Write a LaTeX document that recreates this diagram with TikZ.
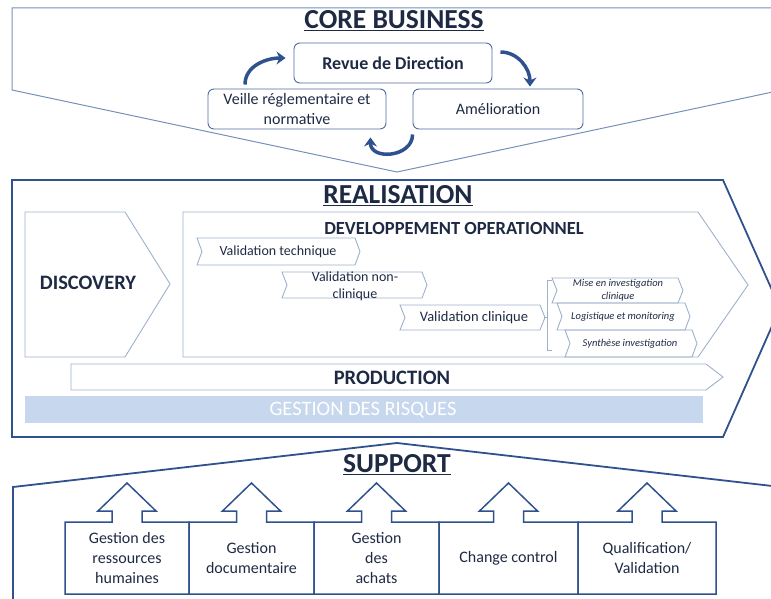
\documentclass[tikz,border=0pt]{standalone}
\usepackage{fontspec}
\setmainfont{Carlito}
\usepackage{tikz}
\usetikzlibrary{arrows.meta,positioning}

\definecolor{ink}{HTML}{1E2A44}
\definecolor{frame}{HTML}{2F528F}
\definecolor{steel}{HTML}{7591BA}
\definecolor{soft}{HTML}{9DB0CC}
\definecolor{risk}{HTML}{C6D7EE}

\tikzset{
  outer/.style={draw=frame, line width=1.8pt, line join=miter},
  corepath/.style={draw=steel, line width=1pt},
  inner/.style={draw=soft, line width=0.9pt},
  box/.style={draw=frame!85, rounded corners=6pt, line width=0.9pt, text=ink,
    align=center, inner sep=0pt},
  title/.style={font=\bfseries\fontsize{27.5}{30}\selectfont, text=ink},
  label/.style={text=ink, align=center, inner sep=0pt},
  cycarrow/.style={frame, line width=3.5pt, -{Stealth[length=9pt,width=13pt]}},
}

% chevron: style, left, top, right, bottom, depth
\newcommand{\chevron}[6]{%
  \draw[#1] (#2,#3) -- (#4,#3) -- (#4+#6,{(#3+#5)/2}) -- (#4,#5)
    -- (#2,#5) -- (#2+#6,{(#3+#5)/2}) -- cycle;}

\begin{document}
\begin{tikzpicture}[x=1pt,y=-1pt]
  \useasboundingbox (0,0) rectangle (771,599);
  \clip (0,0) rectangle (771,599);

  % core business
  \draw[corepath] (12,8) -- (782,8) -- (782,90) -- (397,172) -- (12,90) -- cycle;
  \node[title] (core) at (394,21) {\underline{CORE BUSINESS}};
  \node[box, minimum width=198pt, minimum height=40pt,
    font=\bfseries\fontsize{18}{20}\selectfont] (revue) at (393,63) {Revue de Direction};
  \node[box, minimum width=178pt, minimum height=40pt,
    font=\fontsize{16}{20}\selectfont] (veille) at (297,109) {Veille réglementaire et\\normative};
  \node[box, minimum width=170pt, minimum height=40pt,
    font=\fontsize{16}{20}\selectfont] (amel) at (498,109) {Amélioration};
  %
  \draw[cycarrow] ([shift={(-52,-4)}]veille.north) to[out=90,in=180] ([shift={(-8,-5)}]revue.west);
  \draw[cycarrow] ([shift={(8,-11)}]revue.east) to[out=0,in=90] ([shift={(32,-2)}]amel.north);
  \draw[cycarrow] ([shift={(0,5)}]amel.south west) to[out=-90,in=-90,looseness=1.4] ([shift={(-16,8)}]veille.south east);

  % realisation
  \draw[outer] (12,180) -- (723,180) -- (780,308) -- (723,437) -- (12,437) -- cycle;
  \node[title] (real) at (398,196) {\underline{REALISATION}};
  \draw[inner] (25,212) -- (125,212) -- (170,284) -- (125,357) -- (25,357) -- cycle;
  \node[label, font=\bfseries\fontsize{20.5}{22}\selectfont] (disc) at (88,283) {DISCOVERY};
  \draw[inner] (183,212) -- (698,212) -- (748,285) -- (698,357) -- (183,357) -- cycle;
  \node[label, font=\bfseries\fontsize{18.5}{20}\selectfont] (dev) at (454,228) {DEVELOPPEMENT OPERATIONNEL};
  %
  \chevron{inner}{197}{238}{355}{265}{5}
  \node[label, font=\fontsize{14}{16}\selectfont] (vtech) at (278,252) {Validation technique};
  \chevron{inner}{282}{272}{422}{298}{5}
  \node[label, font=\fontsize{14}{17}\selectfont] (vnon) at (355,286) {Validation non-\\clinique};
  \chevron{inner}{400}{305}{540}{330}{5}
  \node[label, font=\fontsize{14.5}{16}\selectfont] (vclin) at (474,318) {Validation clinique};
  \draw[soft, line width=0.8pt] (552,280) -- (547,280) -- (547,350) -- (552,350)
    (547,317) -- (544,317);
  \chevron{inner}{552}{278}{678}{303}{5}
  \node[label, font=\itshape\fontsize{10.5}{13}\selectfont] (mise) at (618,290) {Mise en investigation\\clinique};
  \chevron{inner}{557}{303}{685}{330}{5}
  \node[label, font=\itshape\fontsize{10.5}{12}\selectfont] (logi) at (623,317) {Logistique et monitoring};
  \chevron{inner}{565}{330}{692}{357}{5}
  \node[label, font=\itshape\fontsize{10.5}{12}\selectfont] (synth) at (630,344) {Synthèse investigation};
  %
  \draw[inner] (71,364) -- (706,364) -- (723,377) -- (706,390) -- (71,390) -- cycle;
  \node[label, font=\bfseries\fontsize{20.5}{22}\selectfont] (prod) at (392,378) {PRODUCTION};
  \fill[risk] (25,396) rectangle (703,423);
  \node[label, text=white, font=\fontsize{20.5}{22}\selectfont] (risques) at (363,410) {GESTION DES RISQUES};

  % support
  \draw[outer] (13,610) -- (13,487) -- (397,443) -- (781,487) -- (781,610);
  \node[title] (supp) at (397,465) {\underline{SUPPORT}};
  \foreach \l/\r/\nm/\txt in {65/189/rh/{Gestion des\\ressources\\humaines},
      189/314/doc/{Gestion\\documentaire}, 314/439/achats/{Gestion\\des\\achats},
      439/578/change/{Change control}, 578/716/qualif/{Qualification/\\Validation}}{
    \pgfmathsetmacro\c{(\l+\r)/2}
    \draw[outer, line width=1.5pt] (\l,594) -- (\l,522) -- (\c-15,522) -- (\c-15,511)
      -- (\c-29,511) -- (\c,483) -- (\c+29,511) -- (\c+15,511) -- (\c+15,522)
      -- (\r,522) -- (\r,594) -- cycle;
    \node[label, font=\fontsize{16}{20}\selectfont] (\nm) at (\c,558) {\txt};
  }
\end{tikzpicture}
\end{document}
